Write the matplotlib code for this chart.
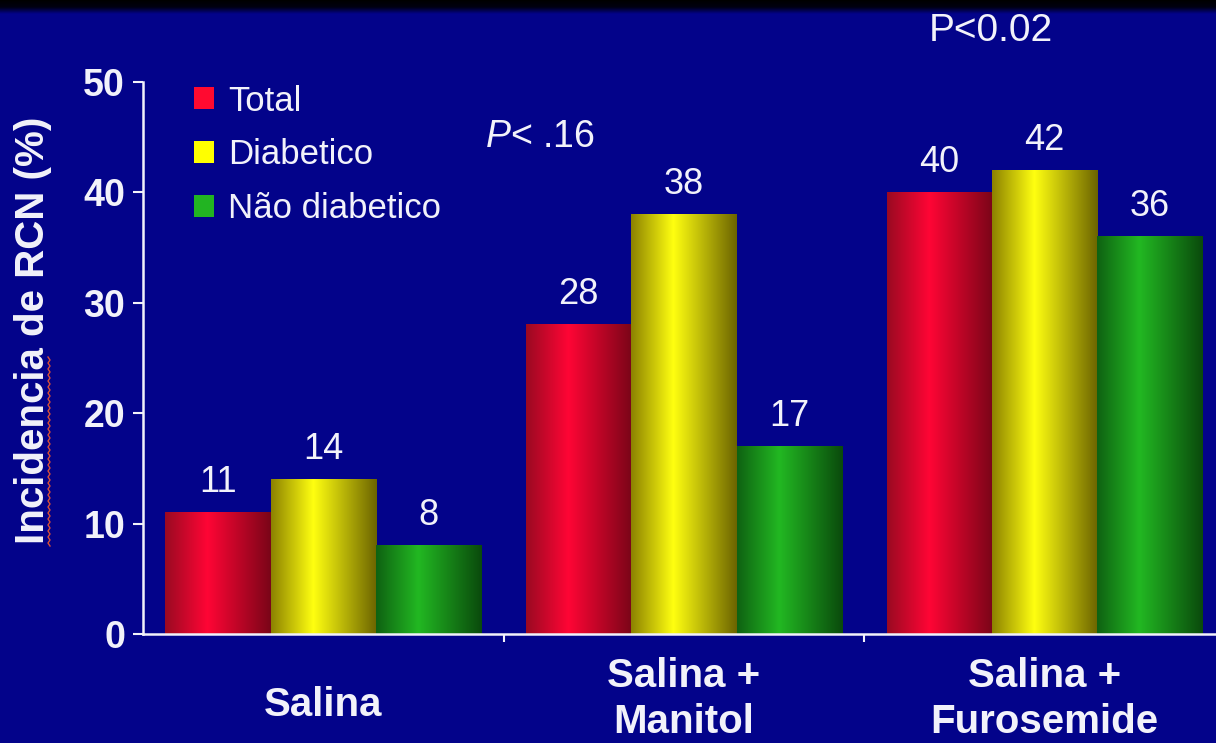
import matplotlib
matplotlib.use('Agg')
import matplotlib.pyplot as plt
from matplotlib.colors import LinearSegmentedColormap
from matplotlib.patches import Patch
import numpy as np

plt.rcParams['font.family'] = ['Liberation Sans', 'DejaVu Sans']
plt.rcParams['mathtext.fontset'] = 'custom'
plt.rcParams['mathtext.it'] = 'Liberation Sans:italic'
plt.rcParams['mathtext.rm'] = 'Liberation Sans'

# data
groups = ['Salina', 'Salina +\nManitol', 'Salina +\nFurosemide']
series = ['Total', 'Diabetico', 'Não diabetico']
total = [11, 28, 40]
diabetico = [14, 38, 42]
nao_diabetico = [8, 17, 36]
yticks = [0, 10, 20, 30, 40, 50]

bg = '#03038a'
fg = '#f2f2fa'
base_cols = ['#ff1030', '#ffff00', '#22b422']
# (left edge, highlight, right edge) for the shaded bars
shades = [('#9a0a22', '#ff0535', '#7a0618'),
          ('#8c8200', '#ffff10', '#6c6400'),
          ('#0f6212', '#22b822', '#0a4a0c')]

fig = plt.figure(figsize=(12.16, 7.43), dpi=100, facecolor=bg)
ax = fig.add_axes([143 / 1216, 109 / 743, 1 - 143 / 1216, 552 / 743])
ax.set_facecolor(bg)

# dark strip at the very top
top = fig.add_axes([0, 1 - 14 / 743, 1, 14 / 743])
top.imshow(np.linspace(0, 1, 50)[:, None], aspect='auto',
           cmap=LinearSegmentedColormap.from_list('t', ['#000000', '#000010', bg]))
top.axis('off')

x = np.arange(len(groups))
w = 0.292
offsets = [-w, 0, w]
data = [total, diabetico, nao_diabetico]
grad = np.linspace(0, 1, 256)[None, :]
for vals, off, col, sh in zip(data, offsets, base_cols, shades):
    bars = ax.bar(x + off, vals, w, color=col, linewidth=0, zorder=2)
    cmap = LinearSegmentedColormap.from_list('g', [(0, sh[0]), (0.4, sh[1]), (1, sh[2])])
    for r, v in zip(bars, vals):
        x0, y0, bw, bh = r.get_x(), r.get_y(), r.get_width(), r.get_height()
        ax.imshow(grad, extent=[x0, x0 + bw, y0, y0 + bh], aspect='auto',
                  cmap=cmap, zorder=3)
        ax.annotate(str(v), (x0 + bw / 2, bh), xytext=(0, 9),
                    textcoords='offset points', ha='center', va='bottom',
                    color=fg, fontsize=26, zorder=4)

ax.set_xlim(-0.5, 2.475)
ax.set_ylim(0, 50)
ax.set_yticks(yticks)
ax.set_yticklabels([str(t) for t in yticks], fontsize=27, fontweight='bold', color=fg)
ax.set_xticks([0.5, 1.5])
ax.set_xticklabels([])
ax.tick_params(axis='y', colors=fg, length=7, width=1.5, pad=6)
ax.tick_params(axis='x', colors=fg, length=6, width=1.5)
for s in ['top', 'right']:
    ax.spines[s].set_visible(False)
for s in ['left', 'bottom']:
    ax.spines[s].set_color(fg)
    ax.spines[s].set_linewidth(1.8)
    ax.spines[s].set_zorder(5)

# group labels
for xi, g in zip(x, groups):
    yy = -0.118 if '\n' in g else -0.129
    ax.text(xi, yy, g, transform=ax.get_xaxis_transform(), ha='center', va='center',
            fontsize=29, fontweight='bold', color=fg, linespacing=1.25)

fig.text(33 / 1216, 1 - 330 / 743, 'Incidencia de RCN (%)', rotation=90,
         ha='center', va='center', fontsize=29, fontweight='bold', color=fg)
# spell-check squiggle under "Incidencia"
zy = np.arange(357, 548, 3)
zx = 48 + 2 * (np.arange(len(zy)) % 2)
fig.add_artist(plt.Line2D(zx / 1216, 1 - zy / 743, color='#d8503a', lw=1.0))

handles = [Patch(facecolor=c, edgecolor='none') for c in ['#ff0a30', '#ffff00', '#22b422']]
leg = ax.legend(handles, series, loc='upper left', bbox_to_anchor=(0.018, 1.052),
                frameon=False, fontsize=25, handlelength=0.6, handleheight=0.6,
                handletextpad=0.4, labelspacing=0.6)
for t in leg.get_texts():
    t.set_color(fg)

fig.text(540 / 1216, 1 - 137 / 743, r'$P$< .16', ha='center', va='center',
         fontsize=27, color=fg)
fig.text(991 / 1216, 1 - 31 / 743, 'P<0.02', ha='center', va='center',
         fontsize=28, color=fg)

fig.savefig('out.png', dpi=100, facecolor=bg)
